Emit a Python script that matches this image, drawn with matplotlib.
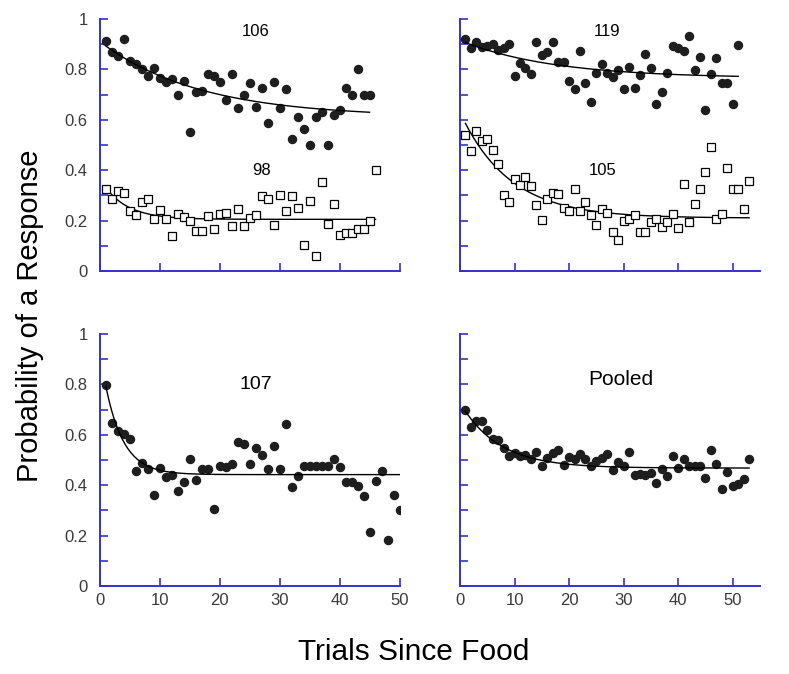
import numpy as np
import matplotlib
matplotlib.use('agg')
import matplotlib.pyplot as plt
from matplotlib.ticker import MultipleLocator

plt.rcParams['font.family'] = ['Liberation Sans', 'DejaVu Sans']

# bird 106 (filled) and 98 (open), top left
b106 = [0.913, 0.870, 0.855, 0.920, 0.835, 0.820, 0.800, 0.775, 0.805, 0.765,
        0.750, 0.762, 0.700, 0.755, 0.552, 0.712, 0.714, 0.780, 0.772, 0.750,
        0.680, 0.780, 0.645, 0.700, 0.745, 0.650, 0.725, 0.588, 0.750, 0.645,
        0.722, 0.523, 0.610, 0.565, 0.500, 0.612, 0.630, 0.500, 0.618, 0.640,
        0.727, 0.700, 0.800, 0.700, 0.700]
b98 = [0.327, 0.285, 0.317, 0.311, 0.237, 0.221, 0.274, 0.287, 0.208, 0.242,
       0.208, 0.139, 0.228, 0.215, 0.200, 0.158, 0.158, 0.220, 0.168, 0.226,
       0.232, 0.179, 0.245, 0.177, 0.211, 0.224, 0.298, 0.285, 0.184, 0.302,
       0.237, 0.298, 0.250, 0.105, 0.278, 0.060, 0.354, 0.187, 0.266, 0.142,
       0.152, 0.152, 0.166, 0.168, 0.200, 0.400]

# bird 119 (filled) and 105 (open), top right
b119 = [0.921, 0.883, 0.910, 0.890, 0.894, 0.899, 0.877, 0.886, 0.902, 0.775,
        0.824, 0.804, 0.780, 0.910, 0.857, 0.868, 0.910, 0.830, 0.828, 0.754,
        0.722, 0.874, 0.748, 0.672, 0.784, 0.820, 0.784, 0.771, 0.797, 0.722,
        0.810, 0.728, 0.777, 0.860, 0.807, 0.662, 0.711, 0.784, 0.894, 0.883,
        0.873, 0.934, 0.797, 0.850, 0.638, 0.780, 0.844, 0.748, 0.748, 0.662,
        0.897]
b105 = [0.539, 0.477, 0.555, 0.517, 0.522, 0.479, 0.426, 0.303, 0.272, 0.364,
        0.343, 0.372, 0.338, 0.261, 0.204, 0.285, 0.310, 0.307, 0.250, 0.238,
        0.327, 0.237, 0.272, 0.224, 0.181, 0.248, 0.232, 0.155, 0.125, 0.200,
        0.205, 0.221, 0.155, 0.155, 0.195, 0.205, 0.175, 0.195, 0.228, 0.171,
        0.347, 0.195, 0.264, 0.327, 0.393, 0.493, 0.208, 0.228, 0.409, 0.327,
        0.327, 0.245, 0.356]

# bird 107, bottom left
b107 = [0.797, 0.645, 0.616, 0.605, 0.585, 0.455, 0.489, 0.464, 0.360, 0.470,
        0.433, 0.442, 0.377, 0.413, 0.502, 0.421, 0.464, 0.464, 0.307, 0.477,
        0.473, 0.486, 0.570, 0.562, 0.486, 0.548, 0.519, 0.464, 0.556, 0.464,
        0.642, 0.391, 0.437, 0.477, 0.477, 0.477, 0.477, 0.477, 0.502, 0.473,
        0.411, 0.411, 0.397, 0.356, 0.215, 0.417, 0.456, 0.181, 0.363, 0.301]

# pooled, bottom right
pooled = [0.698, 0.632, 0.656, 0.656, 0.619, 0.583, 0.581, 0.548, 0.515, 0.526,
          0.517, 0.521, 0.502, 0.532, 0.475, 0.506, 0.528, 0.539, 0.482, 0.513,
          0.502, 0.523, 0.502, 0.477, 0.495, 0.506, 0.522, 0.462, 0.493, 0.477,
          0.532, 0.440, 0.446, 0.440, 0.449, 0.409, 0.466, 0.437, 0.515, 0.470,
          0.502, 0.477, 0.477, 0.477, 0.430, 0.539, 0.483, 0.384, 0.453, 0.397,
          0.404, 0.423, 0.502]

# exponential fits: asymptote, amplitude, time constant
fit106 = (0.61, 0.30, 16.6)
fit98 = (0.205, 0.16, 4.0)
fit119 = (0.765, 0.15, 17.0)
fit105 = (0.21, 0.42, 9.0)
fit107 = (0.442, 0.486, 3.0)
fitpool = (0.468, 0.26, 7.0)

blue = '#3333cc'
dot = '#1e1e1e'


def fit_curve(n, p):
    x = np.linspace(1, n, 200)
    return x, p[0] + p[1] * np.exp(-x / p[2])


def style(ax, xmax, xlabels, ylabels):
    ax.set_xlim(0, xmax)
    ax.set_ylim(0, 1)
    for s in ['top', 'right']:
        ax.spines[s].set_visible(False)
    for s in ['left', 'bottom']:
        ax.spines[s].set_color(blue)
        ax.spines[s].set_linewidth(1.4)
    ax.xaxis.set_major_locator(MultipleLocator(10))
    ax.yaxis.set_major_locator(MultipleLocator(0.2))
    ax.yaxis.set_minor_locator(MultipleLocator(0.1))
    ax.tick_params(axis='x', direction='in', length=6, width=1.2, color=blue,
                   labelsize=12, labelcolor='#3a3a3a', pad=5,
                   labelbottom=xlabels)
    ax.tick_params(axis='y', which='both', direction='in', length=6, width=1.2,
                   color=blue, labelsize=12, labelcolor='#3a3a3a', pad=9,
                   labelleft=ylabels)
    ax.yaxis.set_major_formatter(plt.FuncFormatter(lambda v, _: '%g' % round(v, 1)))


def filled(ax, vals, p):
    x = np.arange(1, len(vals) + 1)
    ax.plot(x, vals, 'o', ms=5.8, color=dot, zorder=3)
    cx, cy = fit_curve(len(vals), p)
    ax.plot(cx, cy, color='black', lw=1, zorder=4)


def open_sq(ax, vals, p):
    x = np.arange(1, len(vals) + 1)
    ax.plot(x, vals, 's', ms=5.6, mfc='white', mec='black', mew=0.9, zorder=3)
    cx, cy = fit_curve(len(vals), p)
    ax.plot(cx, cy, color='black', lw=1, zorder=2)


fig = plt.figure(figsize=(7.89, 6.74), dpi=100)
W, H = 789, 674


def make_ax(x0, x1, ytop, ybot):
    return fig.add_axes([x0 / W, 1 - ybot / H, (x1 - x0) / W, (ybot - ytop) / H])


ax1 = make_ax(100, 399.5, 19, 271)
ax2 = make_ax(460, 760, 19, 271)
ax3 = make_ax(100, 399.5, 334, 586)
ax4 = make_ax(460, 760, 334, 586)

filled(ax1, b106, fit106)
open_sq(ax1, b98, fit98)
style(ax1, 50, False, True)
ax1.text(0.52, 0.95, '106', transform=ax1.transAxes, ha='center', va='center', fontsize=12)
ax1.text(0.54, 0.40, '98', transform=ax1.transAxes, ha='center', va='center', fontsize=12)

filled(ax2, b119, fit119)
open_sq(ax2, b105, fit105)
style(ax2, 55, False, False)
ax2.text(0.49, 0.95, '119', transform=ax2.transAxes, ha='center', va='center', fontsize=12)
ax2.text(0.475, 0.40, '105', transform=ax2.transAxes, ha='center', va='center', fontsize=12)

filled(ax3, b107, fit107)
style(ax3, 50, True, False)
ax3.tick_params(axis='y', labelleft=True)
ax3.text(0.52, 0.80, '107', transform=ax3.transAxes, ha='center', va='center', fontsize=14)

filled(ax4, pooled, fitpool)
style(ax4, 55, True, False)
ax4.text(0.535, 0.82, 'Pooled', transform=ax4.transAxes, ha='center', va='center', fontsize=15)

fig.text(30 / W, 1 - 316 / H, 'Probability of a Response', rotation=90,
         ha='center', va='center', fontsize=21)
fig.text(413.5 / W, 1 - 652 / H, 'Trials Since Food', ha='center', va='center',
         fontsize=21.5)

fig.savefig('out.png', dpi=100)
plt.close(fig)
